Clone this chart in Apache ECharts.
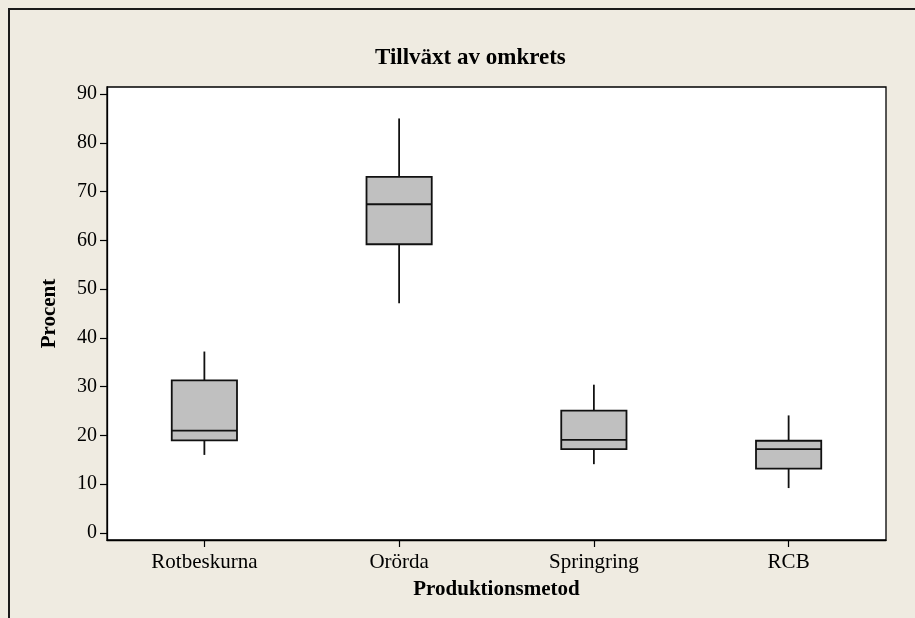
<!DOCTYPE html>
<html>
<head>
<meta charset="utf-8">
<script src="https://cdn.jsdelivr.net/npm/echarts@6/dist/echarts.min.js"></script>
<style>
html,body{margin:0;padding:0;background:#efebe1;}
#c{width:915px;height:618px;}
</style>
</head>
<body>
<div id="c"></div>
<script>
var categories = ["Rotbeskurna", "Orörda", "Springring", "RCB"];
// [min, Q1, median, Q3, max]
var boxValues = [
  [16, 19, 21, 31.3, 37.2],
  [47.1, 59.2, 67.4, 73.0, 85.0],
  [14.1, 17.2, 19.1, 25.1, 30.4],
  [9.2, 13.2, 17.2, 18.9, 24.1]
];
var yTicks = [0, 10, 20, 30, 40, 50, 60, 70, 80, 90];
var titleText = "Tillväxt av omkrets";
var xName = "Produktionsmetod";
var yName = "Procent";

var font = "'Liberation Serif', 'Times New Roman', serif";
var seriesData = boxValues.map(function (v, i) { return [i].concat(v); });

function renderBox(params, api) {
  var idx = api.value(0);
  var pMin = api.coord([idx, api.value(1)]);
  var pQ1 = api.coord([idx, api.value(2)]);
  var pMed = api.coord([idx, api.value(3)]);
  var pQ3 = api.coord([idx, api.value(4)]);
  var pMax = api.coord([idx, api.value(5)]);
  var bw = api.size([1, 0])[0] * 0.335;
  var x = pQ1[0];
  var lineStyle = {stroke: '#111', lineWidth: 1.8};
  return {
    type: 'group',
    children: [
      {type: 'line', shape: {x1: x, y1: pQ3[1], x2: x, y2: pMax[1]}, style: lineStyle},
      {type: 'line', shape: {x1: x, y1: pQ1[1], x2: x, y2: pMin[1]}, style: lineStyle},
      {type: 'rect', shape: {x: x - bw / 2, y: pQ3[1], width: bw, height: pQ1[1] - pQ3[1]},
        style: {fill: '#c0c0c0', stroke: '#111', lineWidth: 1.8}},
      {type: 'line', shape: {x1: x - bw / 2, y1: pMed[1], x2: x + bw / 2, y2: pMed[1]}, style: lineStyle}
    ]
  };
}

var chart = echarts.init(document.getElementById('c'), null, {renderer: 'canvas'});
chart.setOption({
  backgroundColor: '#efebe1',
  animation: false,
  title: {
    text: titleText,
    left: 370,
    top: 42,
    textStyle: {fontFamily: font, fontSize: 23, fontWeight: 'bold', color: '#000'}
  },
  graphic: [{
    type: 'rect',
    shape: {x: 9, y: 9, width: 1000, height: 1000},
    style: {fill: 'none', stroke: '#1a1a1a', lineWidth: 2},
    silent: true
  }],
  grid: {
    left: 107, right: 29, top: 87, bottom: 78,
    show: true, backgroundColor: '#ffffff', borderColor: '#000', borderWidth: 1.3
  },
  xAxis: {
    type: 'category',
    data: categories,
    boundaryGap: true,
    name: xName,
    nameLocation: 'middle',
    nameGap: 39,
    nameTextStyle: {fontFamily: font, fontSize: 21, fontWeight: 'bold', color: '#000'},
    axisLine: {show: true, onZero: false, lineStyle: {color: '#000', width: 1.3}},
    axisTick: {show: true, alignWithLabel: true, length: 7, lineStyle: {color: '#000', width: 1.2}},
    axisLabel: {fontFamily: font, fontSize: 21, color: '#000', margin: 12},
    splitLine: {show: false}
  },
  yAxis: {
    type: 'value',
    min: -1.45,
    max: 91.45,
    name: yName,
    nameLocation: 'middle',
    nameGap: 47,
    nameTextStyle: {fontFamily: font, fontSize: 21, fontWeight: 'bold', color: '#000'},
    axisLine: {show: true, lineStyle: {color: '#000', width: 1.3}},
    axisTick: {show: true, length: 7, customValues: yTicks, lineStyle: {color: '#000', width: 1.2}},
    axisLabel: {fontFamily: font, fontSize: 20, color: '#000', margin: 10, customValues: yTicks},
    splitLine: {show: false}
  },
  series: [{
    type: 'custom',
    renderItem: renderBox,
    data: seriesData,
    encode: {x: 0, y: [1, 2, 3, 4, 5]}
  }]
});
</script>
</body>
</html>
